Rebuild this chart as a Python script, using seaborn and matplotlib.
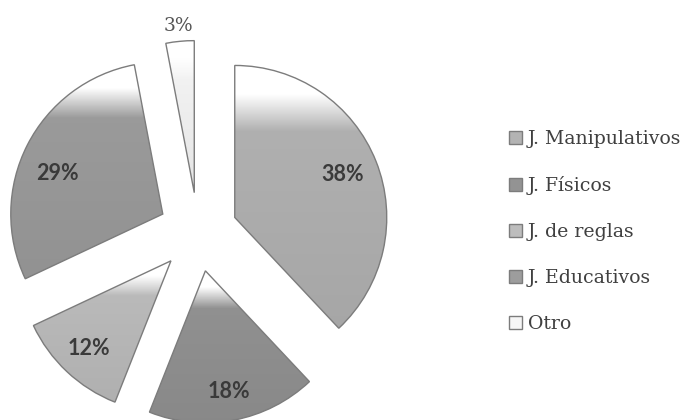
import numpy as np
import matplotlib
matplotlib.use("Agg")
import matplotlib.pyplot as plt
import seaborn as sns
from matplotlib.colors import to_rgb

categories = ["J. Manipulativos", "J. Físicos", "J. de reglas", "J. Educativos", "Otro"]
values = [38, 18, 12, 29, 3]
base_colors = ["#b3b3b3", "#939393", "#bdbdbd", "#9d9d9d", "#f6f6f6"]

sns.set_theme(style="white")
plt.rcParams['font.family'] = ['Lato', 'DejaVu Sans']

fig = plt.figure(figsize=(6.86, 4.2), dpi=100)
ax = fig.add_axes([0, 0, 1, 1])

wedges, texts, autotexts = ax.pie(
    values, colors=base_colors, startangle=90, counterclock=False,
    explode=[0.26] * len(values), radius=1.0,
    autopct='%1.0f%%', pctdistance=0.77,
    wedgeprops=dict(edgecolor="#7c7c7c", linewidth=1.0),
    textprops=dict(fontsize=15.5, fontweight='bold', color='#3a3a3a'))

ax.set_aspect('auto')
ax.axis('off')

leg = ax.legend(wedges, categories, loc='center left',
                bbox_to_anchor=(0.742, 0.449), bbox_transform=fig.transFigure,
                frameon=False, borderpad=0, borderaxespad=0,
                handlelength=0.7, handleheight=0.7, handletextpad=0.3,
                labelspacing=1.48,
                prop=dict(family='DejaVu Serif', size=13.6))
for t in leg.get_texts():
    t.set_color('#404040')

# vertical gradient fill (white top -> grey) clipped to each wedge
tgrid = np.linspace(0, 1, 256)[:, None]
for w, c in zip(wedges, base_colors):
    base = np.array(to_rgb(c))
    ext = w.get_path().get_extents()
    f = np.clip((tgrid - 0.11) / 0.14, 0, 1)
    dark = 1 - 0.07 * tgrid
    rgb = (1 - f)[..., None] * np.ones(3) + (f * dark)[..., None] * base
    rgb = np.clip(rgb, 0, 1).reshape(256, 1, 3)
    im = ax.imshow(rgb, extent=(ext.x0, ext.x1, ext.y0, ext.y1), origin='upper',
                   aspect='auto', zorder=1, interpolation='bilinear')
    im.set_clip_path(w)
    w.set_facecolor('none')
    w.set_zorder(2)

# label placement relative to each exploded wedge (radius fraction, angle nudge in deg)
label_radius = [0.76, 0.81, 0.79, 0.74, 1.1]
label_nudge = [0, 0, 0, 6, 0]
for w, at, lr, dn in zip(wedges, autotexts, label_radius, label_nudge):
    mid = np.deg2rad((w.theta1 + w.theta2) / 2 + dn)
    cx, cy = w.center
    at.set_position((cx + lr * w.r * np.cos(mid), cy + lr * w.r * np.sin(mid)))
    at.set_zorder(3)

autotexts[-1].set_fontweight('normal')
autotexts[-1].set_family('DejaVu Serif')
autotexts[-1].set_fontsize(13.5)
autotexts[-1].set_color('#555555')

ax.set_xlim(-198 / 152, 488 / 152)
ax.set_ylim(-188 / 152, 232 / 152)
fig.savefig("out.png", dpi=100)
